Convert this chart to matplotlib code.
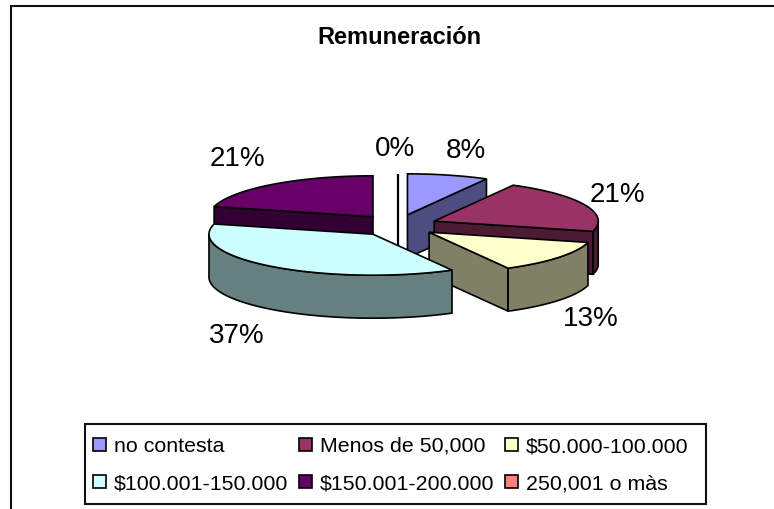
import numpy as np
from matplotlib import pyplot as plt
from matplotlib.patches import Patch, Rectangle

categories = ['no contesta', 'Menos de 50,000', '$50.000-100.000',
              '$100.001-150.000', '$150.001-200.000', '250,001 o màs']
values = [8, 21, 13, 37, 21, 0]
top_colors = ['#9999FF', '#993366', '#FFFFCC', '#CCFFFF', '#660066', '#FF8080']
side_colors = ['#4D4D80', '#4D1A33', '#808066', '#668080', '#330033', '#804040']

#pie geometry in pixels
cx, cy = 397.5, 225.5
rx, ry = 164, 41
depth = 43
ex, ey = 40, 11
#label centres in pixels
label_pos = [(466, 151), (617, 195), (591, 319), (237, 336), (237, 159), (395, 149)]
#back slices first
draw_order = [4, 5, 0, 1, 2, 3]

plt.rcParams['font.family'] = ['Liberation Sans', 'DejaVu Sans']
fig = plt.figure(figsize=(7.74, 5.09), dpi=100)
ax = fig.add_axes([0, 0, 1, 1])
ax.set_xlim(0, 774)
ax.set_ylim(509, 0)
ax.axis('off')

#chart border runs off the right and bottom of the picture
ax.plot([11, 11, 774], [509, 6, 6], color='#111111', lw=1.5, solid_joinstyle='miter')

ang = np.radians(np.cumsum([0] + values) / sum(values) * 360)

def rim(a, x0, y0):
    return x0 + rx * np.sin(a), y0 - ry * np.cos(a)

for i in draw_order:
    a1, a2 = ang[i], ang[i + 1]
    mid = (a1 + a2) / 2
    x0 = cx + ex * np.sin(mid)
    y0 = cy - ey * np.cos(mid)
    # flat faces
    if np.sin(a1) < -1e-6:
        x, y = rim(a1, x0, y0)
        ax.fill([x0, x, x, x0], [y0, y, y + depth, y0 + depth],
                fc=side_colors[i], ec='black', lw=1.2)
    if np.sin(a2) > 1e-6:
        x, y = rim(a2, x0, y0)
        ax.fill([x0, x, x, x0], [y0, y, y + depth, y0 + depth],
                fc=side_colors[i], ec='black', lw=1.2)
    # outer wall, front half only
    lo, hi = max(a1, np.pi / 2), min(a2, 3 * np.pi / 2)
    if hi > lo:
        t = np.linspace(lo, hi, 60)
        x, y = rim(t, x0, y0)
        ax.fill(np.r_[x, x[::-1]], np.r_[y, y[::-1] + depth],
                fc=side_colors[i], ec='black', lw=1.2)
    # top
    t = np.linspace(a1, a2, 80)
    x, y = rim(t, x0, y0)
    if a1 == a2:
        # empty slice only shows as a line, later slices cover its foot
        ax.fill([x0, x0], [y[0], y0 + depth], fc='none', ec='black', lw=1.6)
    else:
        ax.fill(np.r_[x0, x], np.r_[y0, y], fc=top_colors[i], ec='black', lw=1.2)

for v, (x, y) in zip(values, label_pos):
    ax.text(x, y, f'{v}%', fontsize=20, ha='center', va='center')

ax.text(399, 37.5, 'Remuneración', fontsize=17, fontweight='bold', ha='center', va='center')

ax.add_patch(Rectangle((85, 424), 621, 80, fc='white', ec='#111111', lw=1.5, zorder=3))

#legend fills row by row, matplotlib fills column by column
order = [0, 3, 1, 4, 2, 5]
handles = [Patch(fc=top_colors[i], ec='black', lw=1.2) for i in order]
labels = [categories[i] for i in order]
leg = ax.legend(handles, labels, ncol=3, fontsize=15.4, frameon=False,
                loc='upper left', bbox_to_anchor=(93, 437), bbox_transform=ax.transData,
                handlelength=0.6, handleheight=0.6, handletextpad=0.37,
                columnspacing=0.5, labelspacing=0.85, borderpad=0, borderaxespad=0)
leg.set_zorder(4)

fig.savefig('out.png', dpi=100)
